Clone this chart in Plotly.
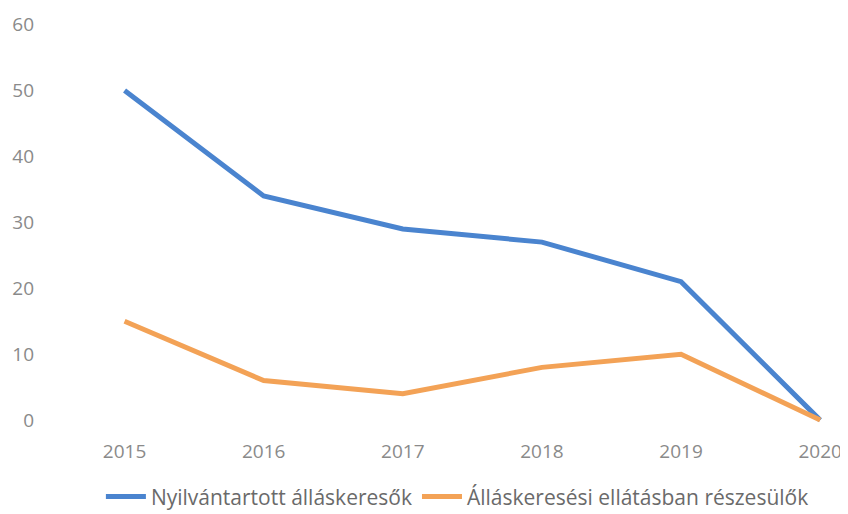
import plotly.graph_objects as go

years = [2015, 2016, 2017, 2018, 2019, 2020]
registered = [50, 34, 29, 27, 21, 0]
benefit = [15, 6, 4, 8, 10, 0]
y_ticks = [0, 10, 20, 30, 40, 50, 60]
name_registered = "Nyilvántartott álláskeresők"
name_benefit = "Álláskeresési ellátásban részesülők"

fig = go.Figure()
fig.add_trace(go.Scatter(x=years, y=registered, mode="lines", name=name_registered,
                         line=dict(color="#4a84cf", width=5)))
fig.add_trace(go.Scatter(x=years, y=benefit, mode="lines", name=name_benefit,
                         line=dict(color="#f3a256", width=5)))

fig.update_layout(
    width=840, height=506,
    margin=dict(l=47, r=0, t=10, b=84, autoexpand=False),
    paper_bgcolor="white", plot_bgcolor="white",
    font=dict(family="Open Sans", size=19, color="#8a8a8a"),
    xaxis=dict(range=[2014.5, 2020.2], tickvals=years, showgrid=False, zeroline=False,
               showline=False, automargin=False, ticklabelstandoff=8,
               tickfont=dict(size=19, color="#8a8a8a")),
    yaxis=dict(range=[-1.5, 61], tickvals=y_ticks, showgrid=False, zeroline=False,
               showline=False, automargin=False, ticklabelstandoff=20,
               tickfont=dict(size=19, color="#8a8a8a")),
    legend=dict(orientation="h", x=0.535, xanchor="center", xref="container",
                y=0.034, yanchor="middle", yref="container",
                font=dict(size=21, color="#6a6a6a"), itemwidth=40),
    showlegend=True,
)

fig.write_html("out.html")
